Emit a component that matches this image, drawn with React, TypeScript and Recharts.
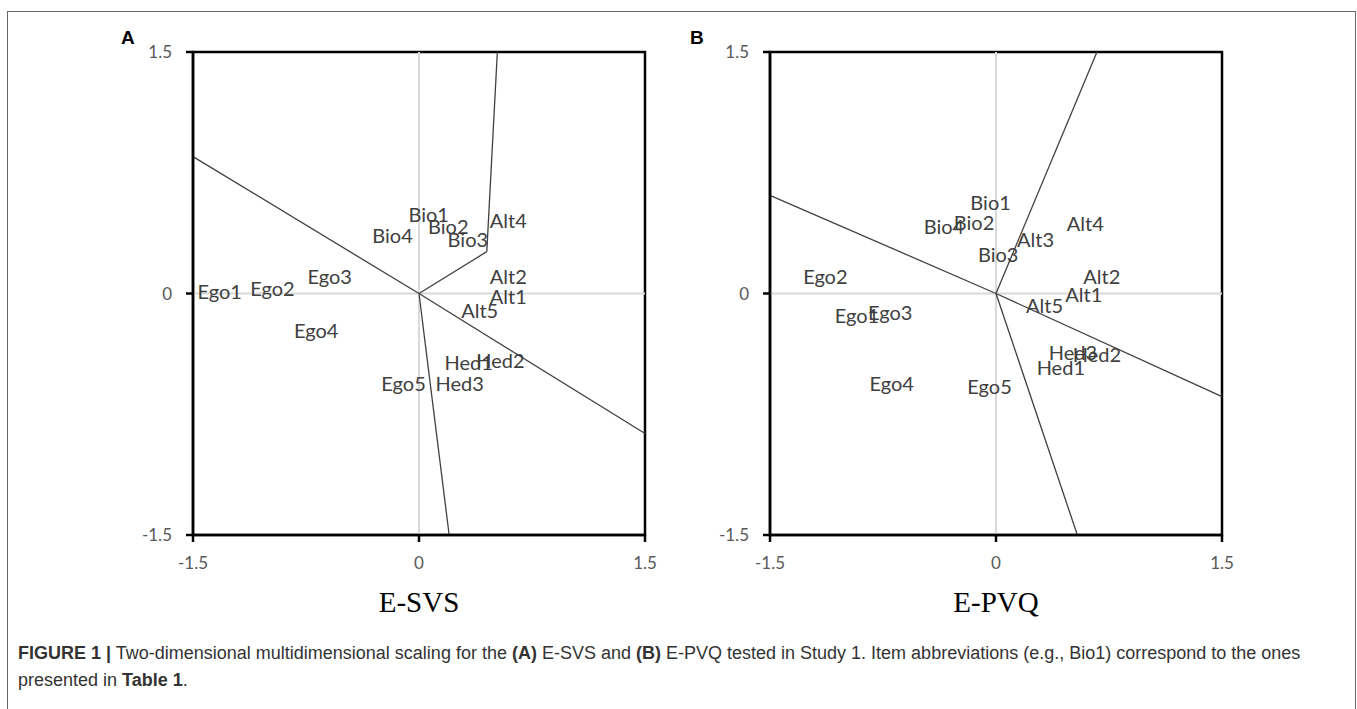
import { ScatterChart, Scatter, XAxis, YAxis, ReferenceLine, ReferenceArea } from 'recharts';

// E-SVS item coordinates (panel A)
const svsItems = ['Ego1', 'Ego2', 'Ego3', 'Ego4', 'Ego5', 'Bio1', 'Bio2', 'Bio3', 'Bio4', 'Alt1', 'Alt2', 'Alt4', 'Alt5', 'Hed1', 'Hed2', 'Hed3'];
const svsX = [-1.49, -1.14, -0.76, -0.85, -0.27, -0.09, 0.04, 0.17, -0.33, 0.45, 0.45, 0.45, 0.26, 0.15, 0.36, 0.09];
const svsY = [0.01, 0.03, 0.1, -0.23, -0.56, 0.49, 0.41, 0.33, 0.36, -0.02, 0.1, 0.45, -0.11, -0.43, -0.42, -0.56];

// E-PVQ item coordinates (panel B)
const pvqItems = ['Ego1', 'Ego2', 'Ego3', 'Ego4', 'Ego5', 'Bio1', 'Bio2', 'Bio3', 'Bio4', 'Alt1', 'Alt2', 'Alt3', 'Alt4', 'Alt5', 'Hed1', 'Hed2', 'Hed3'];
const pvqX = [-1.09, -1.3, -0.87, -0.86, -0.21, -0.19, -0.3, -0.14, -0.5, 0.44, 0.56, 0.12, 0.45, 0.18, 0.25, 0.49, 0.33];
const pvqY = [-0.14, 0.1, -0.12, -0.56, -0.58, 0.56, 0.44, 0.24, 0.41, -0.01, 0.1, 0.33, 0.43, -0.08, -0.46, -0.38, -0.37];

// region partition lines (polylines from the origin)
const svsBoundaries = [
  [[0, 0], [-1.5, 0.85]],
  [[0, 0], [0.45, 0.26], [0.52, 1.5]],
  [[0, 0], [1.5, -0.87]],
  [[0, 0], [0.2, -1.5]],
];
const pvqBoundaries = [
  [[0, 0], [-1.5, 0.61]],
  [[0, 0], [0.67, 1.5]],
  [[0, 0], [1.5, -0.64]],
  [[0, 0], [0.54, -1.5]],
];

const axisTicks = [-1.5, 0, 1.5];

const labelFont = 'Lato, "Open Sans", sans-serif';

const ItemLabel = (props: any) => {
  const { cx, cy, payload } = props;
  return (
    <text x={cx + 3} y={cy} dy="0.35em" fontSize={20} fill="#404040" fontFamily={labelFont}>
      {payload.name}
    </text>
  );
};

interface MdsPanelProps {
  items: string[];
  xs: number[];
  ys: number[];
  boundaries: number[][][];
  title: string;
}

function MdsPanel({ items, xs, ys, boundaries, title }: MdsPanelProps) {
  const data = items.map((name, i) => ({ name, x: xs[i], y: ys[i] }));
  const segments: { x: number; y: number }[][] = [];
  boundaries.forEach((line) => {
    for (let i = 0; i < line.length - 1; i++) {
      segments.push([
        { x: line[i][0], y: line[i][1] },
        { x: line[i + 1][0], y: line[i + 1][1] },
      ]);
    }
  });

  return (
    <ScatterChart width={680} height={620} margin={{ top: 52, right: 35, left: 133, bottom: 5 }}>
      <XAxis
        type="number"
        dataKey="x"
        domain={[-1.5, 1.5]}
        ticks={axisTicks}
        allowDataOverflow
        height={80}
        axisLine={{ stroke: '#000', strokeWidth: 2.5 }}
        tickLine={{ stroke: '#000', strokeWidth: 2.5 }}
        tickSize={7}
        tickMargin={15}
        tick={{ fill: '#595959', fontSize: 17, fontFamily: labelFont }}
        label={{ value: title, position: 'insideBottom', offset: 3, fill: '#000', fontSize: 29, fontFamily: '"Liberation Serif", "DejaVu Serif", serif' }}
      />
      <YAxis
        type="number"
        dataKey="y"
        domain={[-1.5, 1.5]}
        ticks={axisTicks}
        allowDataOverflow
        width={60}
        axisLine={{ stroke: '#000', strokeWidth: 2.5 }}
        tickLine={{ stroke: '#000', strokeWidth: 2.5 }}
        tickSize={7}
        tickMargin={14}
        tick={{ fill: '#595959', fontSize: 17, fontFamily: labelFont }}
      />
      <ReferenceLine x={0} stroke="#d9d9d9" strokeWidth={2} />
      <ReferenceLine y={0} stroke="#d9d9d9" strokeWidth={2} />
      <ReferenceArea x1={-1.5} x2={1.5} y1={-1.5} y2={1.5} fill="none" fillOpacity={0} stroke="#000" strokeWidth={2.5} ifOverflow="visible" />
      {segments.map((seg, i) => (
        <ReferenceLine key={i} segment={seg} stroke="#404040" strokeWidth={1.3} ifOverflow="visible" />
      ))}
      <Scatter data={data} shape={ItemLabel} isAnimationActive={false} />
    </ScatterChart>
  );
}

export default function App() {
  return (
    <div style={{ position: 'absolute', left: 0, top: 0, width: 1357, height: 709, background: '#fff', overflow: 'hidden' }}>
      <div style={{ position: 'absolute', left: 7, top: 11, width: 1347, height: 700, border: '1px solid #666' }} />
      <div style={{ position: 'absolute', left: 0, top: 0 }}>
        <MdsPanel items={svsItems} xs={svsX} ys={svsY} boundaries={svsBoundaries} title="E-SVS" />
      </div>
      <div style={{ position: 'absolute', left: 577, top: 0 }}>
        <MdsPanel items={pvqItems} xs={pvqX} ys={pvqY} boundaries={pvqBoundaries} title="E-PVQ" />
      </div>
      <div style={{ position: 'absolute', left: 121, top: 27, fontFamily: '"Liberation Sans", Arial, sans-serif', fontWeight: 'bold', fontSize: 19 }}>A</div>
      <div style={{ position: 'absolute', left: 690, top: 27, fontFamily: '"Liberation Sans", Arial, sans-serif', fontWeight: 'bold', fontSize: 19 }}>B</div>
      <div
        style={{
          position: 'absolute',
          left: 18,
          top: 640,
          width: 1330,
          fontFamily: '"Liberation Sans", Arial, sans-serif',
          fontSize: 18,
          lineHeight: '27px',
          color: '#333',
          whiteSpace: 'nowrap',
        }}
      >
        <b>FIGURE 1 |</b> Two-dimensional multidimensional scaling for the <b>(A)</b> E-SVS and <b>(B)</b> E-PVQ tested in Study 1. Item abbreviations (e.g., Bio1) correspond to the ones
        <br />
        presented in <b>Table 1</b>.
      </div>
    </div>
  );
}
